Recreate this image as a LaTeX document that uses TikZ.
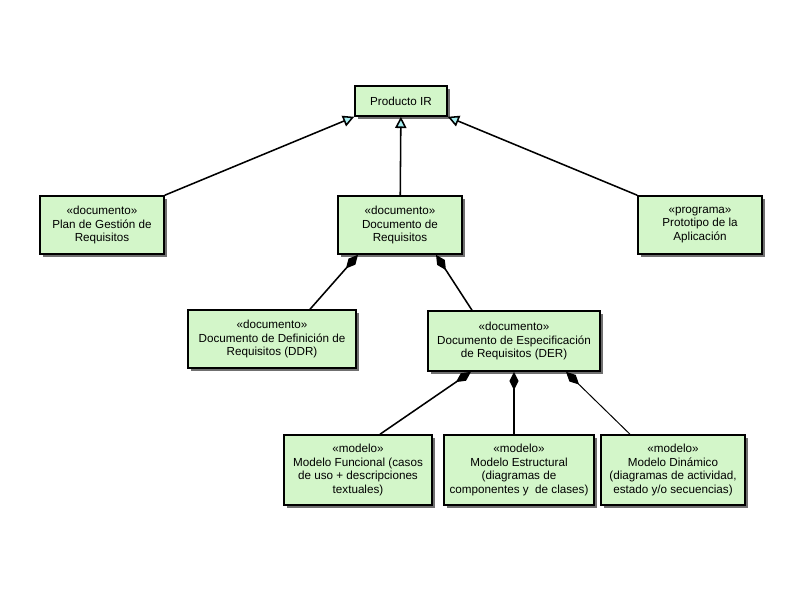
\documentclass[tikz,border=0pt]{standalone}
\usepackage{fontspec}
\setmainfont{Liberation Sans}
\usepackage{tikz}
\usetikzlibrary{arrows.meta, shadows}
\definecolor{irgreen}{HTML}{D3F6C9}
\definecolor{ircyan}{HTML}{A8F0F2}

\begin{document}
\begin{tikzpicture}[
  x=0.025cm, y=-0.025cm,
  box/.style={draw=black, line width=1.1pt, fill=irgreen, align=center, inner sep=1mm,
    font=\fontsize{8.3}{9.9}\selectfont,
    drop shadow={shadow xshift=2.2pt, shadow yshift=-2.2pt, fill=black!70, opacity=0.8}},
  gen/.style={-{Triangle[fill=ircyan, length=8pt, width=8pt]}, line width=1.1pt, black},
  comp/.style={{Diamond[length=13pt, width=6.5pt]}-, line width=1.1pt, black}
]
\useasboundingbox (0,0) rectangle (800,600);
\node[box, minimum width=2.3cm, minimum height=0.75cm] (prod) at (401,101) {Producto IR};

\node[box, minimum width=3.1cm, minimum height=1.45cm] (plan) at (102,225) {«documento»\\ Plan de Gestión de\\ Requisitos};
\node[box, minimum width=3.1cm, minimum height=1.45cm] (docreq) at (400,225) {«documento»\\ Documento de\\ Requisitos};
\node[box, minimum width=3.1cm, minimum height=1.45cm] (proto) at (700,225) {«programa»\\ Prototipo de la\\ Aplicación};

\node[box, minimum width=4.2cm, minimum height=1.45cm] (ddr) at (272,339) {«documento»\\ Documento de Definición de\\ Requisitos (DDR)};
\node[box, minimum width=4.3cm, minimum height=1.5cm] (der) at (514,341) {«documento»\\ Documento de Especificación\\ de Requisitos (DER)};

\node[box, minimum width=3.7cm, minimum height=1.75cm] (func) at (358,470) {«modelo»\\ Modelo Funcional (casos\\ de uso + descripciones\\ textuales)};
\node[box, minimum width=3.75cm, minimum height=1.75cm] (estr) at (519,470) {«modelo»\\ Modelo Estructural\\ (diagramas de\\ componentes y \ de clases)};
\node[box, minimum width=3.6cm, minimum height=1.75cm] (din) at (673,470) {«modelo»\\ Modelo Dinámico\\ (diagramas de actividad,\\ estado y/o secuencias)};

\draw[gen] (plan.north east) -- (prod.south west);
\draw[gen] (docreq) -- (prod);
\draw[gen] (proto.north west) -- (prod.south east);

\draw[comp] ([xshift=-1.05cm]docreq.south) -- ([xshift=0.95cm]ddr.north);
\draw[comp] ([xshift=0.9cm]docreq.south) -- ([xshift=-1.05cm]der.north);
\draw[comp] ([xshift=-1.075cm]der.south) -- ([xshift=0.55cm]func.north);
\draw[comp] (der.south) -- ([xshift=-0.125cm]estr.north);
\draw[comp, line width=0.7pt] ([xshift=1.3cm]der.south) -- ([xshift=-1.075cm]din.north);
\end{tikzpicture}
\end{document}
